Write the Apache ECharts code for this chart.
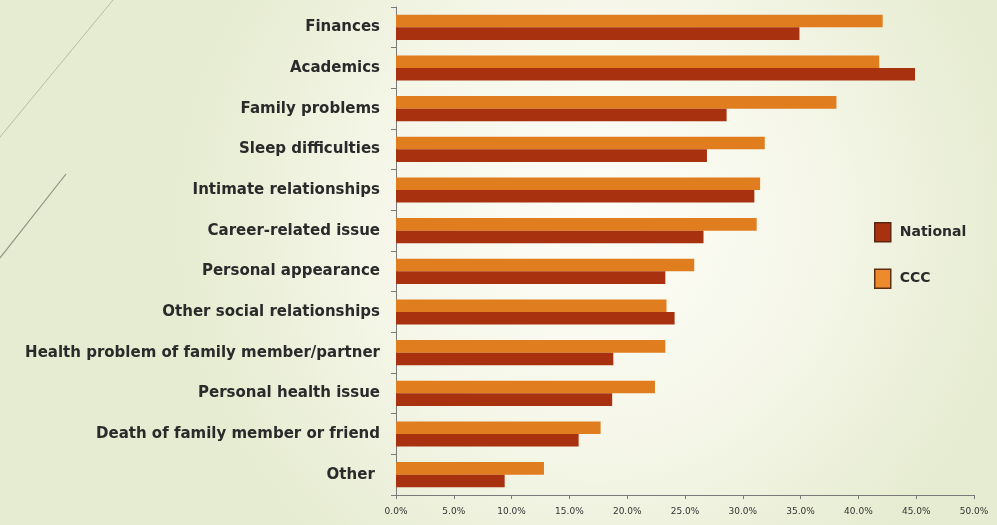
<!DOCTYPE html>
<html>
<head>
<meta charset="utf-8">
<script src="https://cdn.jsdelivr.net/npm/echarts@6/dist/echarts.min.js"></script>
<style>
  html, body { margin: 0; padding: 0; }
  #chart { width: 997px; height: 525px; }
</style>
</head>
<body>
<div id="chart"></div>
<script>
// Sources of stress, listed top to bottom as shown
const categories = [
  'Finances', 'Academics', 'Family problems', 'Sleep difficulties',
  'Intimate relationships', 'Career-related issue', 'Personal appearance',
  'Other social relationships', 'Health problem of family member/partner',
  'Personal health issue', 'Death of family member or friend', 'Other '
];
// Percent of students reporting each source
const national = [34.9, 44.9, 28.6, 26.9, 31.0, 26.6, 23.3, 24.1, 18.8, 18.7, 15.8, 9.4];
const ccc      = [42.1, 41.8, 38.1, 31.9, 31.5, 31.2, 25.8, 23.4, 23.3, 22.4, 17.7, 12.8];
const seriesNames = ['National', 'CCC'];
// Percent axis ticks
const xMin = 0, xMax = 50, xStep = 5;

const colNational = '#a8320f';
const colCCC = '#e07d1e';
const labelFont = 'DejaVu Sans';

// category axis runs bottom-up, so feed it reversed
const rev = a => a.slice().reverse();

const chart = echarts.init(document.getElementById('chart'), null, { renderer: 'canvas' });
chart.setOption({
  animation: false,
  backgroundColor: {
    type: 'radial', x: 0.6, y: 0.42, r: 0.8,
    colorStops: [
      { offset: 0, color: '#fdfdf7' },
      { offset: 0.5, color: '#f6f7ea' },
      { offset: 1, color: '#e6ecd1' }
    ]
  },
  graphic: [
    { type: 'line', shape: { x1: 113, y1: 0, x2: 0, y2: 137 }, style: { stroke: '#b4bda3', lineWidth: 1 }, silent: true },
    { type: 'line', shape: { x1: 66, y1: 174, x2: 0, y2: 258 }, style: { stroke: '#8a927d', lineWidth: 1.2 }, silent: true }
  ],
  grid: { left: 396, right: 23, top: 7, bottom: 30, containLabel: false },
  legend: {
    orient: 'vertical',
    left: 874, top: 222, padding: 0,
    itemWidth: 16, itemHeight: 19, itemGap: 26,
    icon: 'rect',
    textStyle: { fontFamily: labelFont, fontSize: 14, fontWeight: 'bold', color: '#2a2a2a', padding: [0, 0, 0, 4] },
    data: [
      { name: 'National', itemStyle: { color: colNational, borderColor: '#5e2412', borderWidth: 1.5 } },
      { name: 'CCC', itemStyle: { color: '#ee8a2e', borderColor: '#5e2e14', borderWidth: 1.5 } }
    ]
  },
  xAxis: {
    type: 'value', min: xMin, max: xMax, interval: xStep,
    axisLine: { show: true, lineStyle: { color: '#7a7a7a', width: 1 } },
    axisTick: { show: true, length: 4, lineStyle: { color: '#7a7a7a' } },
    splitLine: { show: false },
    axisLabel: {
      margin: 12, fontFamily: labelFont, fontSize: 9, color: '#333',
      formatter: v => v.toFixed(1) + '%'
    }
  },
  yAxis: {
    type: 'category', data: rev(categories),
    axisLine: { show: true, lineStyle: { color: '#7a7a7a', width: 1 } },
    axisTick: { show: true, length: 5, lineStyle: { color: '#7a7a7a' } },
    axisLabel: {
      margin: 16, fontFamily: labelFont, fontSize: 15, fontWeight: 'bold', color: '#2a2a2a'
    }
  },
  series: [
    // first series sits on top within each band
    { name: seriesNames[1], type: 'bar', data: rev(ccc), itemStyle: { color: colCCC },
      barGap: '0%', barCategoryGap: '38%' },
    { name: seriesNames[0], type: 'bar', data: rev(national), itemStyle: { color: colNational },
      barGap: '0%', barCategoryGap: '38%' }
  ]
});
</script>
</body>
</html>
